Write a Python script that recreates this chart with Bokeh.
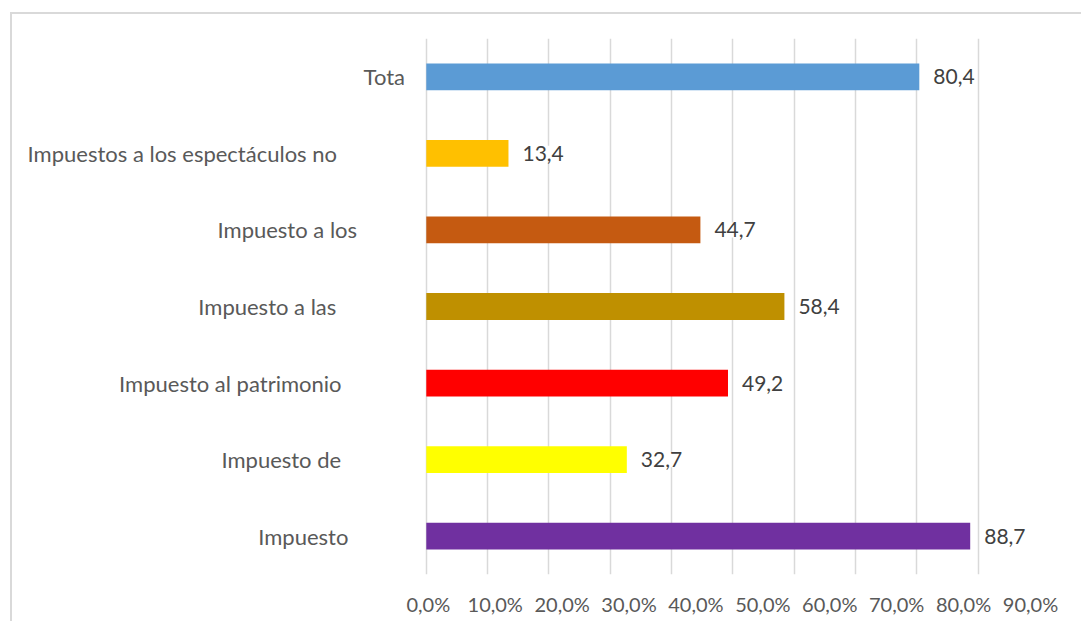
from bokeh.plotting import figure
from bokeh.models import (ColumnDataSource, FactorRange, Range1d, LinearAxis, FixedTicker,
                          CustomJSTickFormatter, Grid)
from bokeh.core.properties import value
from bokeh.embed import file_html
from bokeh.resources import INLINE

# ---- data (bottom to top) ----
categories = ["Impuesto", "Impuesto de", "Impuesto al patrimonio", "Impuesto a las",
              "Impuesto a los", "Impuestos a los espectáculos no", "Tota"]
values = [88.7, 32.7, 49.2, 58.4, 44.7, 13.4, 80.4]
colors = ["#7030A0", "#FFFF00", "#FF0000", "#BF9000", "#C55A11", "#FFC000", "#5B9BD5"]
grid_ticks = [0, 10, 20, 30, 40, 50, 60, 70, 80, 90, 100]
label_ticks = [0, 10, 20, 30, 40, 50, 60, 70, 80, 90]

# ---- layout (page pixels) ----
CANVAS_LEFT = 12          # canvas starts after margin + css border
ZERO_PX = 425             # where 0 % is drawn
HUNDRED_PX = 1037         # where 100 % (last grid line) is drawn
LAB0_PX = 427             # centre of the "0,0%" label
LAB90_PX = 1028           # centre of the "90,0%" label
FRAME_RIGHT_BORDER = 44
label_center_px = [302, 280, 229, 266, 286, 181, 383]

FONT = "Lato"

ppu = (HUNDRED_PX - ZERO_PX) / 100.0
x_start = -(ZERO_PX - CANVAS_LEFT) / ppu
frame_w = HUNDRED_PX - CANVAS_LEFT
lab_span = 90 * frame_w / (LAB90_PX - LAB0_PX)
lab_start = -(LAB0_PX - CANVAS_LEFT) * lab_span / frame_w

src = ColumnDataSource(dict(
    cat=categories,
    val=values,
    color=colors,
    txt=[f"{v:.1f}".replace(".", ",") for v in values],
    zero=[0] * len(categories),
    xoff=[c - ZERO_PX for c in label_center_px],
))

p = figure(width=1071, height=609, output_backend="svg", toolbar_location=None,
           y_range=FactorRange(*categories, range_padding=0),
           x_range=Range1d(x_start, 100),
           x_axis_location=None, y_axis_location=None,
           min_border_left=0, min_border_right=FRAME_RIGHT_BORDER,
           min_border_top=24, min_border_bottom=49)
p.margin = (12, 0, 0, 10)
p.styles = {"border-left": "2px solid #d9d9d9", "border-top": "2px solid #d9d9d9"}
p.outline_line_color = None
p.background_fill_color = "white"
p.border_fill_color = "white"
for g in p.grid:
    g.visible = False

# vertical grid lines
grid = Grid(dimension=0, ticker=FixedTicker(ticks=grid_ticks),
            grid_line_color="#d9d9d9", grid_line_width=1.5)
p.add_layout(grid)

# bars
p.hbar(y="cat", right="val", left=0, height=0.35, color="color", source=src, line_color=None)

# value labels
p.text(x="val", y="cat", text="txt", source=src, x_offset=14,
       text_align="left", text_baseline="middle",
       text_font=value(FONT), text_font_size="21px", text_color="#404040",
       background_fill_color="white")

# category labels
p.text(x="zero", y="cat", text="cat", source=src, x_offset="xoff",
       text_align="center", text_baseline="middle",
       text_font=value(FONT), text_font_size="22px", text_color="#595959")

# tick label axis (labels spread as in the original)
p.extra_x_ranges = {"lab": Range1d(lab_start, lab_start + lab_span)}
ax = LinearAxis(x_range_name="lab", ticker=FixedTicker(ticks=label_ticks),
                formatter=CustomJSTickFormatter(code="return tick.toFixed(1).replace('.', ',') + '%';"))
ax.axis_line_color = None
ax.major_tick_line_color = None
ax.minor_tick_line_color = None
ax.major_tick_out = 0
ax.major_tick_in = 0
ax.minor_tick_out = 0
ax.major_label_standoff = 17
ax.major_label_text_font = FONT
ax.major_label_text_font_size = "20px"
ax.major_label_text_color = "#595959"
p.add_layout(ax, "below")

open("out.html", "w").write(file_html(p, INLINE))
